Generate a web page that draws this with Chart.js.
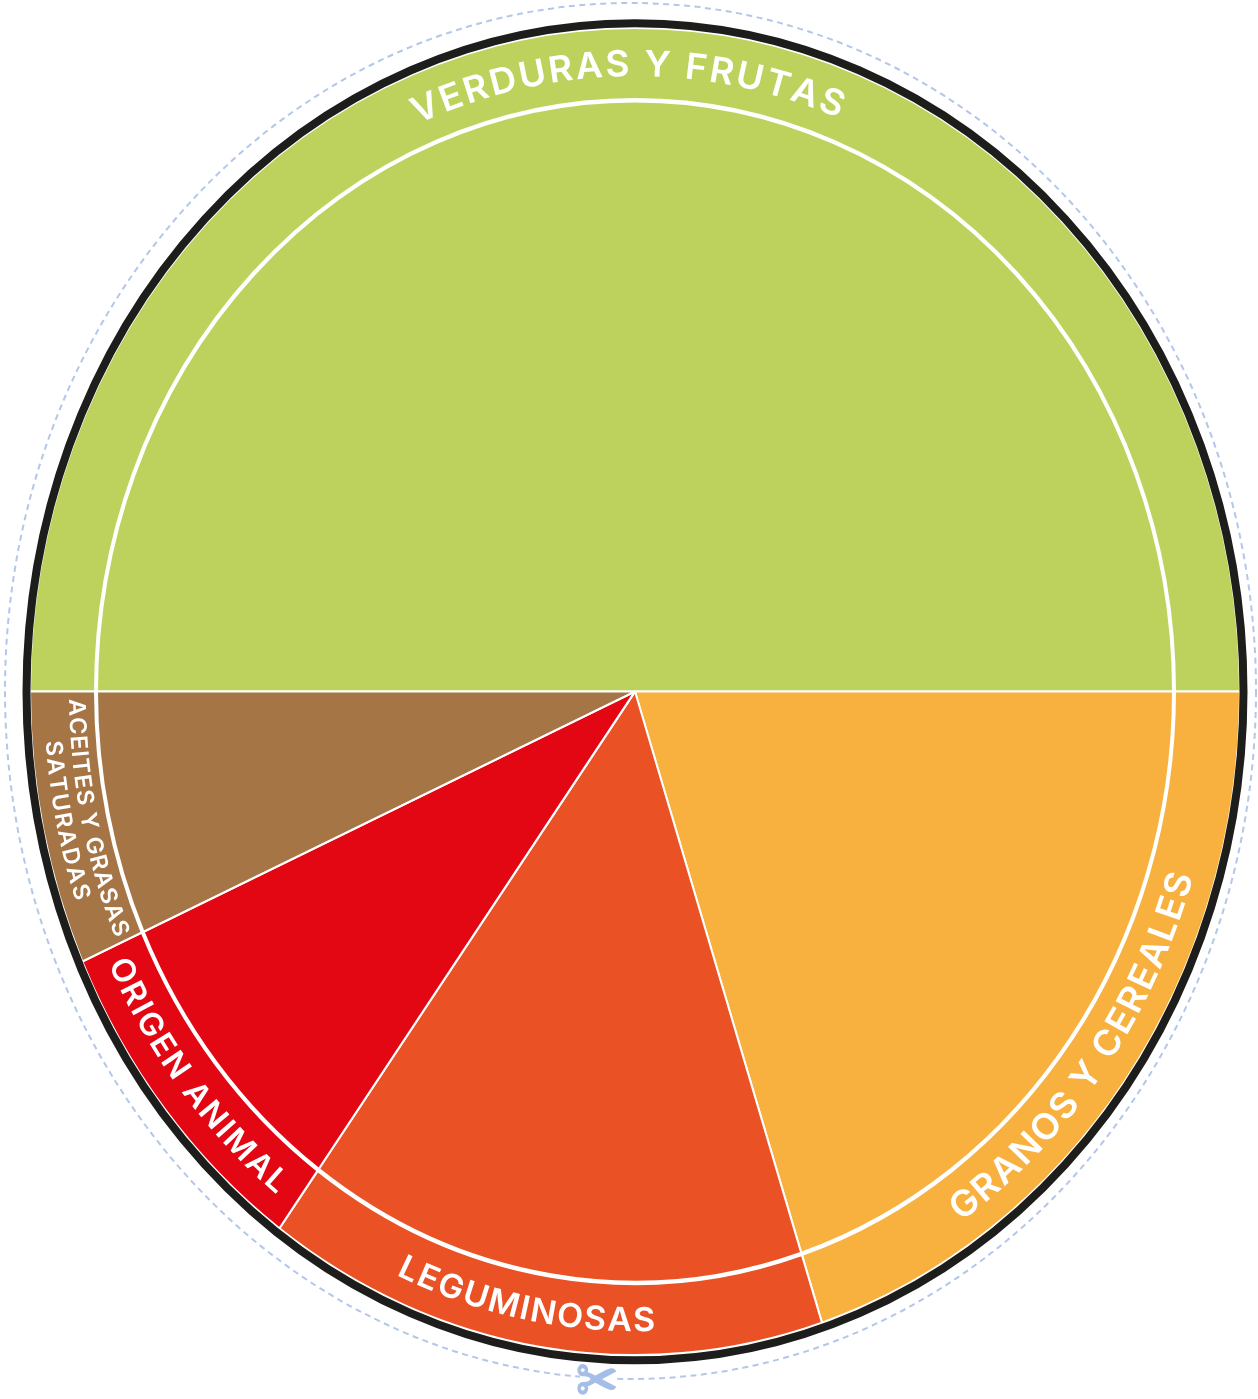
<!DOCTYPE html>
<html>
<head>
<meta charset="utf-8">
<style>html,body{margin:0;padding:0;background:#fff}canvas{display:block}</style>
<script src="https://cdn.jsdelivr.net/npm/chart.js@4"></script>
</head>
<body>
<canvas id="c" width="1258" height="1399"></canvas>
<script>
const categories = ['VERDURAS Y FRUTAS','GRANOS Y CEREALES','LEGUMINOSAS','ORIGEN ANIMAL','ACEITES Y GRASAS SATURADAS'];
const shares = [50,20,15,8.33,6.67];
const sliceColors = ['#bdd25c','#f8b13e','#ea5124','#e30613','#a67545'];

// Curved label placement: angle clockwise from 12 o'clock, in degrees
const labelPlacement = [
  {text:'VERDURAS Y FRUTAS', r:561, from:-22.8, to:21.3, size:36},
  {text:'GRANOS Y CEREALES', r:583, from:146,   to:106.8,size:36},
  {text:'LEGUMINOSAS',       r:583, from:204.2, to:178,  size:33},
  {text:'ORIGEN ANIMAL',     r:582, from:244.8, to:218,  size:32},
  {text:'ACEITES Y GRASAS',  r:566, from:269.3, to:246.6,size:23},
  {text:'SATURADAS',         r:591, from:265.6, to:251.1,size:23}
];

const CX = 635, CY = 691.5, SY = 1.097, FONT = 'Inter', HSCALE = 1.03;

const ellipseFrame = {
  id:'ellipseFrame',
  beforeDatasetsDraw(chart){
    const ctx = chart.ctx;
    const midY = (chart.chartArea.top + chart.chartArea.bottom)/2;
    ctx.save();
    ctx.translate(0, CY);
    ctx.scale(1, SY);
    ctx.translate(0, -midY);
  },
  afterDatasetsDraw(chart){
    const ctx = chart.ctx;
    ctx.restore();
    ctx.save();
    ctx.strokeStyle = '#1d1d1b';
    ctx.lineWidth = 8;
    ctx.beginPath();
    ctx.ellipse(CX, 691.8, 608.5, 668.5, 0, 0, Math.PI*2);
    ctx.stroke();
    ctx.strokeStyle = '#b3c7ea';
    ctx.lineWidth = 2;
    ctx.setLineDash([6,4.5]);
    ctx.beginPath();
    ctx.ellipse(630.5, 691, 625.5, 688, 0, 0, Math.PI*2);
    ctx.stroke();
    ctx.setLineDash([]);
    ctx.fillStyle = '#ffffff';
    ctx.fillRect(580,1372,36,24);
    ctx.fillStyle = '#a5bee8';
    ctx.strokeStyle = '#a5bee8';
    ctx.lineWidth = 1.4;
    ctx.font = '50px "DejaVu Sans"';
    ctx.textAlign = 'center';
    ctx.textBaseline = 'middle';
    ctx.translate(597, 1386);
    ctx.scale(1, 1.3);
    ctx.fillText('\u2702', 0, 0);
    ctx.strokeText('\u2702', 0, 0);
    ctx.restore();
    ctx.save();
    labelPlacement.forEach(l => drawCurved(ctx, l));
    ctx.restore();
  }
};

function drawCurved(ctx, l){
  const rx = l.r, ry = l.r*SY;
  const pt = d => { const t = d*Math.PI/180; return {x:CX+rx*Math.sin(t), y:CY-ry*Math.cos(t)}; };
  const steps = 600, lens = [0];
  let prev = pt(l.from);
  for(let i=1;i<=steps;i++){
    const p = pt(l.from+(l.to-l.from)*i/steps);
    lens.push(lens[i-1]+Math.hypot(p.x-prev.x,p.y-prev.y));
    prev = p;
  }
  const total = lens[steps];
  ctx.font = `600 ${l.size}px "${FONT}"`;
  ctx.fillStyle = '#ffffff';
  ctx.textAlign = 'center';
  ctx.textBaseline = 'alphabetic';
  const chars = [...l.text];
  const widths = chars.map(c => ctx.measureText(c).width*HSCALE);
  const sum = widths.reduce((a,b)=>a+b,0);
  const gap = (total-sum)/(chars.length-1);
  const at = s => {
    let i = 0; while(i<steps && lens[i+1]<s) i++;
    const f = lens[i+1]>lens[i] ? (s-lens[i])/(lens[i+1]-lens[i]) : 0;
    return l.from+(l.to-l.from)*(i+f)/steps;
  };
  let s = 0;
  chars.forEach((c,i)=>{
    const d = at(Math.max(0,Math.min(total,s+widths[i]/2)));
    const p = pt(d);
    const a = pt(d+(l.to-l.from)*0.001), b = pt(d-(l.to-l.from)*0.001);
    ctx.save();
    ctx.translate(p.x,p.y);
    ctx.rotate(Math.atan2(a.y-b.y,a.x-b.x));
    ctx.scale(HSCALE,1);
    ctx.fillText(c,0,0);
    ctx.restore();
    s += widths[i]+gap;
  });
}

new Chart(document.getElementById('c'),{
  type:'doughnut',
  data:{
    labels:categories,
    datasets:[
      {data:shares, backgroundColor:sliceColors, borderColor:'#ffffff', borderWidth:2, weight:65, clip:false},
      {data:shares, backgroundColor:'#ffffff', borderColor:'#ffffff', borderWidth:0, weight:2, clip:false},
      {data:shares, backgroundColor:sliceColors, borderColor:'#ffffff', borderWidth:2, weight:538, clip:false}
    ]
  },
  options:{
    responsive:false,
    animation:false,
    cutout:0,
    rotation:-90,
    layout:{padding:{left:29,right:17,top:0,bottom:187}},
    plugins:{legend:{display:false},title:{display:false},tooltip:{enabled:false}}
  },
  plugins:[ellipseFrame]
});
</script>
</body>
</html>
